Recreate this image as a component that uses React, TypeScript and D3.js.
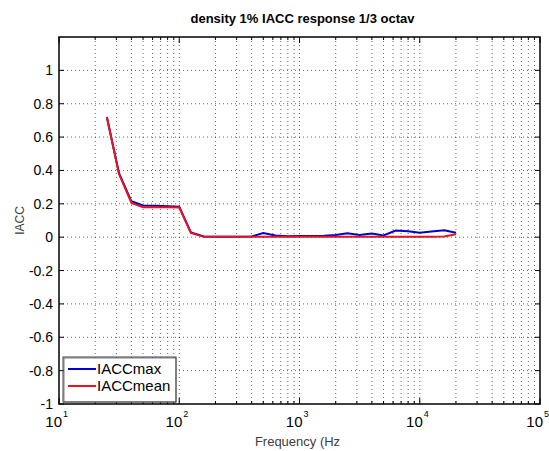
import React from "react";
import * as d3 from "d3";

const freqs = [25, 31.5, 40, 50, 63, 80, 100, 125, 160, 200, 250, 315, 400, 500, 630, 800, 1000, 1250, 1600, 2000, 2500, 3150, 4000, 5000, 6300, 8000, 10000, 12500, 16000, 20000];
const iaccMax = [0.72, 0.385, 0.215, 0.19, 0.188, 0.186, 0.183, 0.028, 0.004, 0.003, 0.003, 0.003, 0.004, 0.025, 0.01, 0.006, 0.007, 0.007, 0.009, 0.013, 0.024, 0.013, 0.022, 0.01, 0.04, 0.035, 0.027, 0.034, 0.042, 0.026];
const iaccMean = [0.72, 0.38, 0.205, 0.18, 0.18, 0.18, 0.178, 0.025, 0.002, 0.002, 0.002, 0.002, 0.002, 0.002, 0.002, 0.002, 0.002, 0.002, 0.002, 0.002, 0.002, 0.002, 0.002, 0.002, 0.002, 0.002, 0.002, 0.002, 0.004, 0.018];
const yTicks = [-1, -0.8, -0.6, -0.4, -0.2, 0, 0.2, 0.4, 0.6, 0.8, 1];
const xDecades = [1, 2, 3, 4, 5];

export default function App() {
  const W = 549, H = 451;
  const L = 59, R = 540, T = 37, B = 404;
  const x = d3.scaleLog().domain([10, 100000]).range([L, R]);
  const y = d3.scaleLinear().domain([-1, 1.2]).range([B, T]);
  const minor: number[] = [];
  for (let d = 1; d < 5; d++) for (let k = 2; k <= 9; k++) minor.push(k * Math.pow(10, d));
  const majors = xDecades.map((e) => Math.pow(10, e));
  const line = d3.line<number>().x((_, i) => x(freqs[i])).y((v) => y(v));
  const font = "Liberation Sans, Arial, Helvetica, sans-serif";
  return (
    <svg width={W} height={H} style={{ position: "absolute", left: 0, top: 0 }} fontFamily={font}>
      <rect x={0} y={0} width={W} height={H} fill="#fff" />
      {/* grid */}
      {[...minor, ...majors.slice(1, -1)].map((f, i) => (
        <line key={"gx" + i} x1={x(f)} x2={x(f)} y1={T} y2={B} stroke="#000" strokeWidth={0.6} strokeDasharray="1,3" />
      ))}
      {yTicks.filter((v) => v > -1).map((v, i) => (
        <line key={"gy" + i} x1={L} x2={R} y1={y(v)} y2={y(v)} stroke="#000" strokeWidth={0.6} strokeDasharray="1,3" />
      ))}
      {/* ticks */}
      {yTicks.map((v, i) => (
        <g key={"ty" + i}>
          <line x1={L} x2={L + 5} y1={y(v)} y2={y(v)} stroke="#000" />
          <line x1={R} x2={R - 5} y1={y(v)} y2={y(v)} stroke="#000" />
          <text x={L - 6} y={y(v) + 5} fontSize={14} textAnchor="end">{v === 0 ? "0" : String(v)}</text>
        </g>
      ))}
      {minor.map((f, i) => (
        <g key={"tm" + i}>
          <line x1={x(f)} x2={x(f)} y1={B} y2={B - 3} stroke="#000" />
          <line x1={x(f)} x2={x(f)} y1={T} y2={T + 3} stroke="#000" />
        </g>
      ))}
      {majors.map((f, i) => (
        <g key={"tM" + i}>
          <line x1={x(f)} x2={x(f)} y1={B} y2={B - 6} stroke="#000" />
          <line x1={x(f)} x2={x(f)} y1={T} y2={T + 6} stroke="#000" />
          <text x={x(f) + 3} y={427} fontSize={15} textAnchor="end">10</text>
          <text x={x(f) + 4} y={417} fontSize={9}>{xDecades[i]}</text>
        </g>
      ))}
      <rect x={L} y={T} width={R - L} height={B - T} fill="none" stroke="#000" strokeWidth={1.5} />
      {/* data */}
      <path d={line(iaccMax) || ""} fill="none" stroke="#0000d0" strokeWidth={2} />
      <path d={line(iaccMean) || ""} fill="none" stroke="#e8141e" strokeWidth={2} />
      {/* legend */}
      <rect x={64} y={358} width={112} height={44} fill="#fff" stroke="#808080" strokeWidth={1} />
      <rect x={63} y={357} width={113} height={45} fill="none" stroke="#404040" strokeWidth={1} />
      <line x1={68} x2={96} y1={369} y2={369} stroke="#0000d0" strokeWidth={2} />
      <text x={97} y={374} fontSize={15}>IACCmax</text>
      <line x1={68} x2={96} y1={386} y2={386} stroke="#e8141e" strokeWidth={2} />
      <text x={97} y={391} fontSize={15}>IACCmean</text>
      {/* labels */}
      <text x={(L + R) / 2 + 3} y={23} fontSize={13} fontWeight="bold" textAnchor="middle">density 1% IACC response 1/3 octav</text>
      <text x={(L + R) / 2 - 2} y={446} fontSize={13} fill="#404040" textAnchor="middle">Frequency (Hz</text>
      <text transform={`translate(24,${(T + B) / 2}) rotate(-90)`} fontSize={12} fill="#404040" textAnchor="middle">IACC</text>
    </svg>
  );
}
